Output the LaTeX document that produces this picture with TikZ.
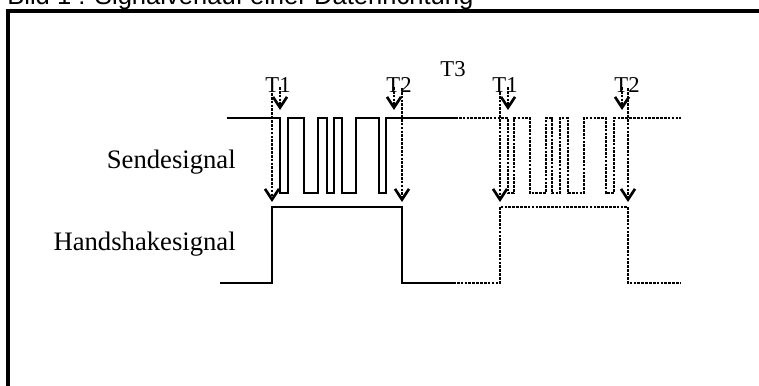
\documentclass[tikz,border=0pt]{standalone}
\usepackage{fontspec}
\usetikzlibrary{arrows.meta}
\setmainfont{Liberation Serif}
\newfontfamily\titlefont{Liberation Sans}
\tikzset{
    x=0.75pt,y=-0.75pt,
    wave/.style={line width=1.1pt},
    wavedash/.style={line width=1.1pt,dash pattern=on 2pt off 0.9pt},
    pfeil/.style={line width=0.9pt,dash pattern=on 2pt off 0.9pt,-{Straight Barb[length=8pt,width=10.5pt,line width=2pt]}},
    zeit/.style={font=\fontsize{17}{17}\selectfont,inner sep=0pt,anchor=base},
    signame/.style={font=\fontsize{20}{20}\selectfont,inner sep=0pt,anchor=base east}
}
\begin{document}
\begin{tikzpicture}
    \useasboundingbox (0,0) rectangle (759,385);
    \clip (0,0) rectangle (759,385);
    \node[font=\titlefont\fontsize{19.2}{19.2}\selectfont,inner sep=0pt,anchor=base west] (titel) at (7,5) {Bild 1 : Signalverlauf einer Datenrichtung};
    \draw[line width=2.4pt] (8,400)--(8,11)--(775,11);
    % Sendesignal
    \draw[wave] (227,118)-|(280,193)-|(288,118)-|(304,193)-|(318,118)-|(327,193)-|(334,118)-|(342,193)-|(356,118)-|(379,193)-|(386,118)--(455,118);
    \draw[wavedash] (455,118)-|(508,193)-|(514,118)-|(530,193)-|(546,118)-|(552,193)-|(560,118)-|(568,193)-|(584,118)-|(606,193)-|(614,118)--(681,118);
    % Handshakesignal
    \draw[wave] (220,283)-|(272,207)-|(402,283)--(453,283);
    \draw[wavedash] (453,283)-|(500,207)-|(628,283)--(681,283);
    \node[signame] (send) at (236,168) {Sendesignal};
    \node[signame] (hand) at (236,250) {Handshakesignal};
    \node[zeit] (t1a) at (278,92) {T1};
    \node[zeit] (t2a) at (399,92) {T2};
    \node[zeit] (t3) at (453,76) {T3};
    \node[zeit] (t1b) at (505,92) {T1};
    \node[zeit] (t2b) at (627,92) {T2};
    \coordinate (s1a) at (272,93); \coordinate (e1a) at (272,202);
    \coordinate (s2a) at (402,88); \coordinate (e2a) at (402,202);
    \coordinate (s1b) at (500,92); \coordinate (e1b) at (500,202);
    \coordinate (s2b) at (628,88); \coordinate (e2b) at (628,202);
    \draw[pfeil] (s1a)--(e1a);
    \draw[pfeil] (s2a)--(e2a);
    \draw[pfeil] (s1b)--(e1b);
    \draw[pfeil] (s2b)--(e2b);
    \coordinate (k1a) at (280,87); \coordinate (l1a) at (280,110);
    \coordinate (k2a) at (394,87); \coordinate (l2a) at (394,110);
    \coordinate (k1b) at (508,87); \coordinate (l1b) at (508,110);
    \coordinate (k2b) at (622,87); \coordinate (l2b) at (622,110);
    \draw[pfeil] (k1a)--(l1a);
    \draw[pfeil] (k2a)--(l2a);
    \draw[pfeil] (k1b)--(l1b);
    \draw[pfeil] (k2b)--(l2b);
\end{tikzpicture}
\end{document}
